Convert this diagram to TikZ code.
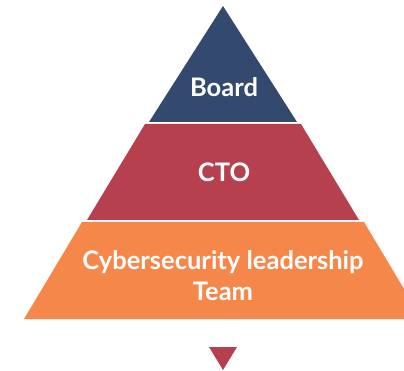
\documentclass[tikz,border=0pt]{standalone}
\usepackage{fontspec}
\setmainfont{Lato}
\definecolor{boardc}{HTML}{34496E}
\definecolor{ctoc}{HTML}{B7404F}
\definecolor{teamc}{HTML}{F5874A}
\begin{document}
\begin{tikzpicture}[x=1pt,y=-1pt,
  lbl/.style={text=white,font=\bfseries\fontsize{25.5}{31}\selectfont,align=center,inner sep=0pt}]
\useasboundingbox (0,0) rectangle (404,371);
\clip (0,0) rectangle (404,371);
\fill[boardc] (223,6) -- (297,122) -- (149,122) -- cycle;
\fill[ctoc] (145,124) -- (301,124) -- (359,220) -- (87,220) -- cycle;
\fill[teamc] (82,222) -- (364,222) -- (422,319) -- (24,319) -- cycle;
\fill[ctoc] (209,347) -- (237,347) -- (223,370) -- cycle;
\node[lbl] (board) at (224,87) {Board};
\node[lbl] (cto) at (224,172) {CTO};
\node[lbl] (team) at (223,276) {Cybersecurity leadership\\Team};
\end{tikzpicture}
\end{document}
